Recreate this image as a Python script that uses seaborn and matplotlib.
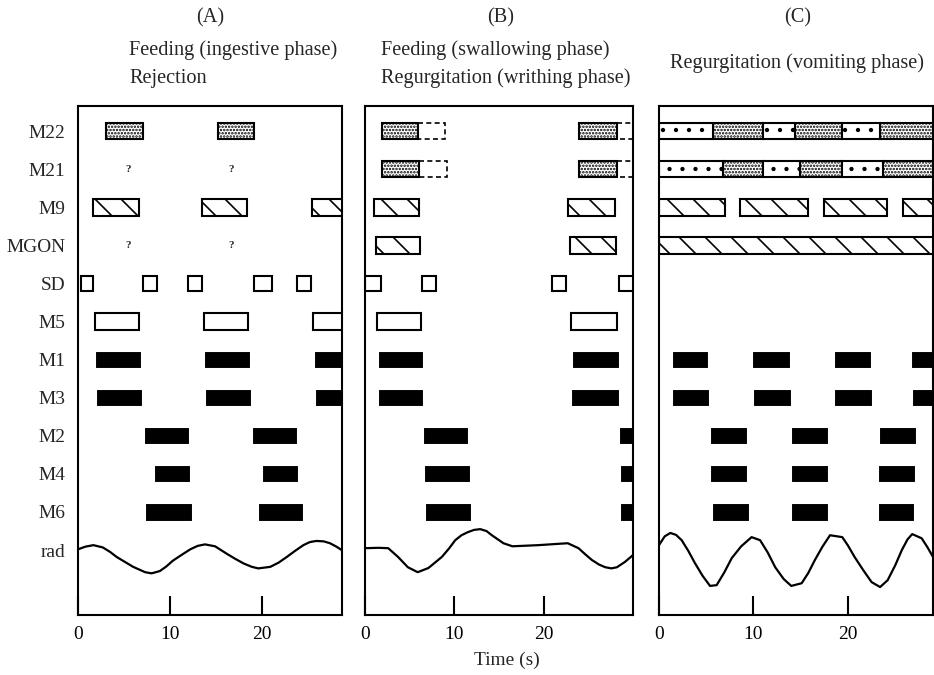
import numpy as np
import pandas as pd
import matplotlib
matplotlib.use("Agg")
import matplotlib.pyplot as plt
import seaborn as sns

# ---------------- data ----------------
ROWS = ["M22", "M21", "M9", "MGON", "SD", "M5", "M1", "M3", "M2", "M4", "M6", "rad"]
X_TICKS = [0, 10, 20]
X_TICK_LABELS = ["0", "10", "20"]

# (row, start s, end s, style)
A_SEGMENTS = [
    ("M22", 3.0, 7.1, "dense"), ("M22", 15.2, 19.1, "dense"),
    ("M9", 1.65, 6.6, "hatch"), ("M9", 13.5, 18.4, "hatch"), ("M9", 25.4, 29.5, "hatch"),
    ("SD", 0.3, 1.6, "sd"), ("SD", 7.1, 8.6, "sd"), ("SD", 12.0, 13.5, "sd"),
    ("SD", 19.1, 21.1, "sd"), ("SD", 23.8, 25.3, "sd"),
    ("M5", 1.85, 6.6, "open"), ("M5", 13.7, 18.5, "open"), ("M5", 25.5, 29.5, "open"),
    ("M1", 1.85, 6.8, "black"), ("M1", 13.7, 18.7, "black"), ("M1", 25.7, 29.5, "black"),
    ("M3", 2.0, 7.0, "black"), ("M3", 13.8, 18.8, "black"), ("M3", 25.8, 29.5, "black"),
    ("M2", 7.2, 12.1, "black"), ("M2", 18.9, 23.8, "black"),
    ("M4", 8.3, 12.2, "black"), ("M4", 20.0, 23.9, "black"),
    ("M6", 7.3, 12.4, "black"), ("M6", 19.6, 24.5, "black"),
]
A_QUERIES = [("M21", 5.4), ("M21", 16.7), ("MGON", 5.4), ("MGON", 16.7)]

B_SEGMENTS = [
    ("M22", 1.9, 5.9, "dense"), ("M22", 5.9, 9.0, "dashed"),
    ("M22", 23.9, 28.2, "dense"), ("M22", 28.2, 30.6, "dashed"),
    ("M21", 1.9, 6.0, "dense"), ("M21", 6.0, 9.2, "dashed"),
    ("M21", 23.9, 28.2, "dense"), ("M21", 28.2, 30.6, "dashed"),
    ("M9", 1.0, 6.0, "hatch"), ("M9", 22.7, 28.0, "hatch"),
    ("MGON", 1.2, 6.2, "hatch"), ("MGON", 22.9, 28.1, "hatch"),
    ("SD", 0.0, 1.8, "sd"), ("SD", 6.4, 8.0, "sd"), ("SD", 20.9, 22.5, "sd"), ("SD", 28.4, 30.6, "sd"),
    ("M5", 1.3, 6.3, "open"), ("M5", 23.1, 28.2, "open"),
    ("M1", 1.5, 6.5, "black"), ("M1", 23.2, 28.4, "black"),
    ("M3", 1.5, 6.5, "black"), ("M3", 23.1, 28.4, "black"),
    ("M2", 6.5, 11.5, "black"), ("M2", 28.4, 30.6, "black"),
    ("M4", 6.6, 11.8, "black"), ("M4", 28.6, 30.6, "black"),
    ("M6", 6.7, 11.9, "black"), ("M6", 28.5, 30.6, "black"),
]

C_SEGMENTS = [
    ("M22", 0.0, 5.7, "sparse"), ("M22", 5.7, 11.0, "dense"), ("M22", 11.0, 14.4, "sparse"),
    ("M22", 14.4, 19.4, "dense"), ("M22", 19.4, 23.4, "sparse"), ("M22", 23.4, 29.6, "dense"),
    ("M21", 0.0, 6.8, "sparse"), ("M21", 6.8, 11.0, "dense"), ("M21", 11.0, 14.9, "sparse"),
    ("M21", 14.9, 19.4, "dense"), ("M21", 19.4, 23.7, "sparse"), ("M21", 23.7, 29.6, "dense"),
    ("M9", 0.0, 7.0, "hatch"), ("M9", 8.6, 15.8, "hatch"), ("M9", 17.5, 24.1, "hatch"), ("M9", 25.8, 29.6, "hatch"),
    ("MGON", 0.0, 29.6, "hatch"),
    ("M1", 1.4, 5.2, "black"), ("M1", 9.8, 13.9, "black"), ("M1", 18.5, 22.4, "black"), ("M1", 26.7, 29.6, "black"),
    ("M3", 1.4, 5.3, "black"), ("M3", 9.9, 14.0, "black"), ("M3", 18.5, 22.5, "black"), ("M3", 26.8, 29.6, "black"),
    ("M2", 5.4, 9.3, "black"), ("M2", 14.0, 17.9, "black"), ("M2", 23.3, 27.2, "black"),
    ("M4", 5.4, 9.3, "black"), ("M4", 14.0, 17.9, "black"), ("M4", 23.2, 27.1, "black"),
    ("M6", 5.6, 9.5, "black"), ("M6", 14.0, 17.9, "black"), ("M6", 23.2, 27.0, "black"),
]

# radula trace (time s, displacement in row units, up = positive)
RAD_A_T = [0, 0.8, 1.67, 2.7, 3.5, 4.2, 5.1, 6.0, 7.3, 8.0, 8.9, 9.6, 10.3, 11.3, 12.2, 13.0,
           13.8, 14.9, 16.2, 17.1, 18.0, 18.9, 19.6, 20.9, 21.8, 22.7, 23.6, 24.5, 25.2, 25.9,
           26.7, 27.4, 28.1, 28.8]
RAD_A_V = [0.02, 0.09, 0.13, 0.07, -0.05, -0.18, -0.31, -0.44, -0.58, -0.61, -0.55, -0.43,
           -0.28, -0.12, 0.02, 0.11, 0.15, 0.10, -0.10, -0.23, -0.35, -0.44, -0.48, -0.44,
           -0.33, -0.18, -0.02, 0.13, 0.21, 0.24, 0.23, 0.18, 0.09, -0.02]
RAD_B_T = [0, 1.5, 2.6, 3.7, 4.8, 5.9, 7.1, 8.6, 9.4, 10.1, 10.8, 11.5, 12.2, 12.9, 13.6,
           14.2, 15.5, 16.5, 19.4, 22.0, 22.7, 23.9, 24.7, 25.4, 26.2, 26.9, 27.6, 28.2,
           29.1, 30.0]
RAD_B_V = [0.05, 0.06, 0.05, -0.18, -0.45, -0.58, -0.47, -0.18, 0.04, 0.26, 0.39, 0.47,
           0.53, 0.55, 0.50, 0.39, 0.18, 0.10, 0.13, 0.17, 0.18, 0.05, -0.12, -0.26, -0.38,
           -0.45, -0.48, -0.45, -0.31, -0.13]
RAD_C_T = [0, 0.6, 1.2, 1.8, 2.4, 3.1, 3.8, 4.6, 5.4, 6.1, 6.9, 7.7, 8.7, 9.8, 10.7, 11.5,
           12.3, 13.2, 14.0, 15.1, 15.8, 16.5, 17.3, 18.1, 19.4, 20.0, 20.7, 21.6, 22.5,
           23.4, 24.2, 25.0, 25.7, 26.3, 26.8, 27.8, 28.4, 29.0]
RAD_C_V = [0.13, 0.36, 0.45, 0.40, 0.26, -0.02, -0.34, -0.67, -0.94, -0.92, -0.59, -0.21,
           0.10, 0.34, 0.26, -0.06, -0.45, -0.76, -0.94, -0.87, -0.60, -0.26, 0.09, 0.39,
           0.34, 0.12, -0.18, -0.52, -0.84, -0.97, -0.79, -0.40, 0.00, 0.28, 0.42, 0.31,
           0.08, -0.18]

PANEL_LETTERS = ["(A)", "(B)", "(C)"]
A_TITLES = ["Feeding (ingestive phase)", "Rejection"]
B_TITLES = ["Feeding (swallowing phase)", "Regurgitation (writhing phase)"]
C_TITLES = ["Regurgitation (vomiting phase)"]
X_LABEL = "Time (s)"
X_LIMITS = [28.7, 30.0, 29.0]

# ---------------- style ----------------
DPI = 78
K = 100.0 / DPI  # keep sizes as if drawn at 100 dpi

sns.set_theme(style="white")
plt.rcParams["font.family"] = ["Liberation Serif", "DejaVu Serif"]
plt.rcParams["hatch.linewidth"] = 1.2 * K
plt.rcParams["axes.edgecolor"] = "black"

FONT = 14.6 * K
FONT_T = 14.0 * K
LW = 1.5 * K
STYLE = {
    "black": dict(color="black", height=0.45),
    "open": dict(facecolor="white", edgecolor="black", linewidth=LW, height=0.45),
    "hatch": dict(facecolor="white", edgecolor="black", linewidth=LW, hatch="\\", height=0.45),
    "dense": dict(facecolor="white", edgecolor="black", linewidth=LW, hatch="....", height=0.42),
    "sparse": dict(facecolor="white", edgecolor="black", linewidth=LW, hatch=".", height=0.42),
    "dashed": dict(facecolor="white", edgecolor="black", linewidth=1.2 * K, linestyle=(0, (3, 2)), height=0.42),
    "sd": dict(facecolor="white", edgecolor="black", linewidth=LW, height=0.40),
}

W, H = 934.0, 675.0
fig = plt.figure(figsize=(W / DPI, H / DPI), dpi=DPI)
panel_px = [(78, 342), (365, 633), (659, 933)]
top_px, bot_px = 106, 615
row0_px, row_step = 131.0, 38.1
y_top = (top_px - row0_px) / row_step
y_bot = (bot_px - row0_px) / row_step

segments = [A_SEGMENTS, B_SEGMENTS, C_SEGMENTS]
rads = [(RAD_A_T, RAD_A_V), (RAD_B_T, RAD_B_V), (RAD_C_T, RAD_C_V)]
row_idx = {r: i for i, r in enumerate(ROWS)}

axes = []
for p, (x0, x1) in enumerate(panel_px):
    ax = fig.add_axes([x0 / W, 1 - bot_px / H, (x1 - x0) / W, (bot_px - top_px) / H])
    axes.append(ax)
    df = pd.DataFrame(segments[p], columns=["row", "start", "end", "style"])
    df["y"] = df["row"].map(row_idx)
    for style, sub in df.groupby("style"):
        ax.barh(sub["y"], sub["end"] - sub["start"], left=sub["start"], **STYLE[style])
    rt, rv = rads[p]
    rad_df = pd.DataFrame({"t": rt, "y": row_idx["rad"] - np.asarray(rv)})
    sns.lineplot(data=rad_df, x="t", y="y", ax=ax, color="black", linewidth=1.6 * K,
                 sort=False, estimator=None)
    ax.set_xlim(0, X_LIMITS[p])
    ax.set_ylim(y_bot, y_top)
    ax.set_xlabel("")
    ax.set_ylabel("")
    ax.set_xticks(X_TICKS)
    ax.set_xticklabels(X_TICK_LABELS, fontsize=FONT_T)
    ax.tick_params(axis="x", direction="in", length=14 * K, width=LW, pad=8 * K,
                   bottom=True, colors="black")
    for s in ax.spines.values():
        s.set_linewidth(LW)
        s.set_color("black")
    if p == 0:
        ax.set_yticks(range(len(ROWS)))
        ax.set_yticklabels(ROWS, fontsize=FONT_T)
        ax.tick_params(axis="y", length=0, pad=9 * K)
    else:
        ax.set_yticks([])

for row, t in A_QUERIES:
    axes[0].text(t, row_idx[row], "?", ha="center", va="center", fontsize=8 * K, fontweight="bold")


def fx(px):
    return px / W


def fy(px):
    return 1 - px / H


fig.text(fx(210), fy(18), PANEL_LETTERS[0], ha="center", va="center", fontsize=FONT)
fig.text(fx(501), fy(18), PANEL_LETTERS[1], ha="center", va="center", fontsize=FONT)
fig.text(fx(798), fy(18), PANEL_LETTERS[2], ha="center", va="center", fontsize=FONT)
fig.text(fx(129), fy(50), A_TITLES[0], ha="left", va="center", fontsize=FONT)
fig.text(fx(129), fy(78), A_TITLES[1], ha="left", va="center", fontsize=FONT)
fig.text(fx(381), fy(50), B_TITLES[0], ha="left", va="center", fontsize=FONT)
fig.text(fx(381), fy(78), B_TITLES[1], ha="left", va="center", fontsize=FONT)
fig.text(fx(797), fy(63), C_TITLES[0], ha="center", va="center", fontsize=FONT)
fig.text(fx(507), fy(660), X_LABEL, ha="center", va="center", fontsize=FONT_T)

fig.savefig("out.png", dpi=DPI, facecolor="white")
